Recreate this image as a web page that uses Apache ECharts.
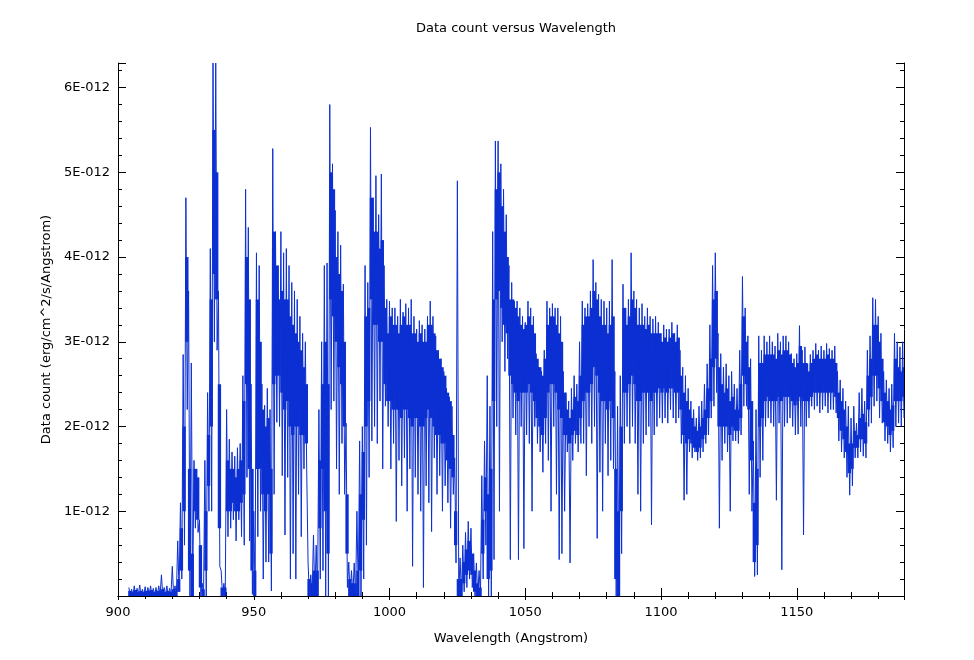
<!DOCTYPE html>
<html>
<head>
<meta charset="utf-8">
<script src="https://cdn.jsdelivr.net/npm/echarts@6/dist/echarts.min.js"></script>
<style>
html,body{margin:0;padding:0;background:#fff;}
#chart{width:974px;height:660px;}
</style>
</head>
<body>
<div id="chart"></div>
<script>
// Wavelength bins (Angstrom): one bin per Angstrom starting at 904
const wavelengthStart = 904;
const wavelengthStep = 1;
// Extreme upper / lower flux reached in each bin (units of 1E-012 erg/cm^2/s/Angstrom)
const fluxHigh = [
0.10,0.08,0.12,0.09,0.13,0.08,0.11,0.10,0.12,0.09,
0.10,0.12,0.25,0.10,0.12,0.09,0.35,0.12,0.65,1.10,
2.85,4.70,3.60,2.75,1.60,1.50,0.90,0.15,1.60,2.40,
4.10,6.29,6.29,3.60,0.30,0.15,2.20,1.85,1.70,1.65,
1.75,1.80,2.60,4.80,4.35,2.50,1.00,4.05,3.90,2.50,
2.25,2.45,2.20,5.28,4.30,3.90,4.30,4.05,4.10,3.90,
3.70,3.60,3.50,3.30,3.10,3.00,0.40,0.25,0.72,0.60,
2.20,3.00,3.90,3.93,5.80,5.10,4.55,4.30,4.14,3.68,
2.04,0.40,0.30,0.39,1.00,1.83,2.00,3.90,3.70,5.53,
4.70,4.96,4.50,4.98,3.90,3.50,3.48,3.40,3.40,3.30,
3.50,3.35,3.45,3.40,3.50,3.30,3.15,3.25,3.20,3.15,
3.30,3.48,3.30,3.07,2.90,2.80,2.65,2.45,2.35,2.24,
1.63,4.90,0.45,0.60,0.75,0.88,0.80,0.50,0.39,0.30,
1.42,1.83,2.60,2.24,4.30,5.37,5.37,5.10,4.80,4.50,
3.90,3.70,3.48,3.48,3.40,3.30,3.23,3.48,3.40,3.30,
2.86,2.70,2.65,2.90,3.48,3.40,3.45,3.40,3.40,3.30,
2.65,2.40,2.30,2.45,2.60,2.50,3.00,3.48,3.40,3.45,
3.60,3.97,3.70,3.56,3.50,3.48,3.40,3.48,3.97,2.65,
2.24,2.60,3.68,3.40,3.50,4.05,3.60,3.50,3.40,3.45,
3.30,3.40,3.30,3.27,3.30,3.23,3.10,3.20,3.15,3.15,
3.23,3.10,3.20,2.90,2.70,2.60,2.45,2.30,2.20,2.10,
2.24,2.30,2.50,2.74,3.20,3.90,4.05,3.10,2.86,2.70,
2.74,2.60,2.65,2.50,2.45,2.90,3.77,3.40,3.07,2.80,
1.83,2.20,3.07,2.90,3.07,3.00,3.07,3.00,2.95,3.10,
3.00,3.07,3.07,3.00,2.86,2.80,2.86,3.19,2.90,2.94,
2.74,2.85,2.90,2.98,2.90,2.95,2.90,2.98,2.92,2.90,
2.95,2.65,2.55,2.45,2.30,2.24,2.10,2.24,2.04,2.40,
2.45,2.30,2.90,3.07,3.52,3.50,3.30,3.10,2.65,2.55,
2.45,2.50,3.10,3.00,2.94,3.00
];
const fluxLow = [
0.00,0.01,0.00,0.02,0.00,0.01,0.00,0.02,0.00,0.01,
0.00,0.01,0.00,0.01,0.00,0.01,0.00,0.01,0.05,0.20,
0.60,2.20,0.00,0.00,0.80,0.75,0.00,0.00,0.00,1.00,
1.00,3.00,2.90,0.35,0.00,0.00,0.70,0.80,0.90,0.65,
0.90,0.70,0.60,1.40,0.65,0.02,0.00,0.70,1.00,0.20,
0.40,0.40,0.06,1.20,2.05,2.00,1.42,0.72,1.40,0.20,
0.50,0.20,1.20,0.70,1.50,1.50,0.00,0.00,0.00,0.00,
0.20,0.30,0.00,0.00,2.20,2.30,1.50,1.20,1.80,1.20,
0.10,0.00,0.00,0.00,0.00,0.00,0.20,0.60,1.40,1.83,
2.00,1.80,2.30,1.50,2.24,2.00,1.50,1.80,0.88,1.60,
1.30,1.63,1.00,1.50,0.35,1.40,1.20,1.00,0.10,1.30,
1.10,0.76,1.63,1.20,1.42,1.00,1.30,1.10,0.80,1.20,
0.39,0.00,0.00,0.05,0.10,0.20,0.10,0.00,0.00,0.00,
0.20,0.60,0.00,0.00,0.43,2.00,1.00,3.00,2.65,2.80,
0.43,2.10,1.90,0.43,2.00,0.56,1.90,1.80,1.00,2.00,
1.80,1.70,1.46,1.80,1.60,1.00,2.00,1.20,0.43,0.50,
1.00,1.70,0.39,1.60,1.80,1.70,1.80,1.80,1.42,2.00,
1.80,2.00,0.68,1.46,1.00,1.80,1.42,1.60,1.50,0.00,
0.00,0.50,1.80,2.00,1.80,2.00,1.80,1.20,1.00,1.80,
1.90,2.00,0.84,1.90,2.00,2.10,2.04,2.10,2.04,2.20,
2.10,2.04,2.10,1.80,1.13,1.20,1.70,1.63,1.70,1.60,
1.63,1.70,1.80,1.90,2.10,2.24,2.40,0.80,1.60,1.80,
1.70,1.00,1.83,1.83,1.80,1.90,2.24,2.24,1.20,1.00,
0.23,0.25,1.40,1.60,2.00,2.10,2.04,2.00,1.13,2.04,
0.31,2.00,2.04,2.10,2.00,1.90,1.91,2.00,0.72,2.00,
2.10,2.24,2.20,2.24,2.16,2.20,2.24,2.16,2.20,2.20,
2.16,1.83,1.70,1.63,1.40,1.19,1.30,1.63,1.63,1.70,
1.65,1.63,2.00,2.04,2.24,2.30,2.10,2.04,1.83,1.80,
1.70,1.75,2.00,2.04,2.00,2.10
];
// Dense core of the noisy spectrum in each bin (units of 1E-012)
const coreHigh = [
0.06,0.05,0.07,0.05,0.06,0.05,0.06,0.06,0.07,0.05,0.06,0.06,0.08,0.05,0.06,0.05,0.08,0.06,
0.2,0.8,2.0,4.0,1.5,0.5,1.5,1.4,0.6,0.08,
1.0,1.9,3.5,5.5,5.0,2.5,0.1,0.1,1.6,1.5,
1.5,1.4,1.5,1.6,2.3,4.0,3.5,1.5,0.3,3.5,
3.0,2.2,2.0,2.1,1.5,4.3,3.9,3.5,3.6,3.5,
3.5,3.3,3.2,3.1,3.0,2.9,2.7,2.5,0.2,0.15,
0.3,0.3,1.6,2.5,3.0,2.5,5.0,4.8,4.0,3.8,
3.6,3.0,1.2,0.2,0.15,0.15,0.3,1.2,1.7,3.3,
3.4,4.7,4.3,4.3,4.1,4.2,3.4,3.1,3.3,3.2,
3.2,3.1,3.2,3.3,3.2,3.2,3.1,3.1,3.0,3.1,
3.0,3.0,3.2,3.2,3.1,2.9,2.8,2.7,2.6,2.4,
2.3,1.9,1.0,0.2,0.2,0.4,0.55,0.65,0.5,0.3,
0.15,0.1,0.9,1.4,1.2,1.5,3.5,4.8,5.0,4.6,
4.3,4.0,3.5,3.5,3.4,3.3,3.2,3.15,3.2,3.3,
3.2,3.1,2.8,2.7,2.6,2.8,3.2,3.3,3.3,3.2,
3.1,3.0,2.4,2.2,2.1,2.2,2.35,2.3,2.6,3.2,
3.3,3.3,3.4,3.6,3.5,3.3,3.2,3.2,3.1,3.2,
3.3,1.5,1.0,2.0,3.4,3.2,3.3,3.5,3.4,3.2,
3.2,3.2,3.15,3.2,3.1,3.1,3.1,3.1,3.0,3.05,
3.0,3.05,3.1,3.0,3.05,2.6,2.4,2.3,2.2,2.1,
2.0,1.95,2.0,2.1,2.2,2.45,2.8,3.5,3.6,2.7,
2.5,2.4,2.45,2.3,2.35,2.2,2.2,2.5,3.3,3.0,
2.7,2.3,1.1,1.5,2.75,2.75,2.85,2.85,2.85,2.85,
2.8,2.9,2.85,2.9,2.9,2.85,2.75,2.7,2.75,2.95,
2.75,2.75,2.65,2.75,2.8,2.85,2.8,2.8,2.8,2.85,
2.8,2.8,2.75,2.4,2.3,2.2,2.0,1.8,1.8,1.95,
1.9,2.1,2.15,2.05,2.6,2.8,3.2,3.2,3.0,2.8,
2.4,2.3,2.2,2.25,2.8,2.7,2.65,2.7
];
const coreLow = [
0,0,0,0,0,0,0,0,0,0,0,0,0,0,0,0,0,0,
0.05,0.3,1.0,3.0,0.3,0.0,1.0,0.9,0.1,0.0,
0.3,1.3,2.0,3.8,3.5,0.8,0.0,0.0,1.0,1.0,
1.1,1.0,1.0,1.1,1.2,2.5,1.5,0.3,0.0,1.5,
1.5,1.2,1.0,1.2,0.5,2.5,2.6,2.6,2.4,2.2,
2.3,2.0,1.9,2.0,2.0,1.9,1.9,1.8,0.0,0.0,
0.0,0.0,0.8,1.5,1.0,0.5,3.5,3.3,3.0,2.7,
2.5,2.0,0.5,0.0,0.0,0.0,0.0,0.3,0.9,2.0,
2.3,3.5,3.2,3.2,3.0,3.0,2.5,2.3,2.3,2.2,
2.2,2.2,2.1,2.2,2.2,2.1,2.0,2.1,2.1,2.0,
2.0,2.1,2.2,2.1,2.0,1.9,1.9,1.8,1.8,1.6,
1.5,1.4,0.6,0.0,0.0,0.15,0.25,0.3,0.25,0.05,
0.0,0.0,0.5,1.0,0.2,0.3,2.3,3.5,3.6,3.4,
3.2,3.1,2.6,2.5,2.4,2.3,2.4,2.4,2.4,2.5,
2.4,2.3,2.1,2.0,1.9,2.1,2.4,2.5,2.5,2.4,
2.2,2.1,1.9,1.9,1.8,1.9,1.95,1.9,2.1,2.3,
2.4,2.4,2.5,2.7,2.6,2.4,2.3,2.3,2.2,2.3,
2.1,0.2,0.0,1.0,2.4,2.4,2.5,2.6,2.5,2.3,
2.3,2.4,2.4,2.4,2.3,2.4,2.4,2.45,2.4,2.45,
2.4,2.45,2.45,2.4,2.4,2.2,1.9,1.8,1.85,1.8,
1.75,1.7,1.75,1.85,1.9,2.1,2.3,2.7,2.8,2.0,
2.0,2.0,2.0,1.9,2.0,1.95,1.95,2.1,2.6,2.5,
2.2,1.6,0.4,0.6,2.0,2.1,2.3,2.35,2.3,2.3,
2.3,2.35,2.3,2.35,2.35,2.35,2.3,2.25,2.3,2.35,
2.3,2.3,2.3,2.35,2.4,2.4,2.4,2.4,2.4,2.4,
2.4,2.4,2.35,2.1,1.95,1.85,1.7,1.45,1.5,1.75,
1.75,1.85,1.85,1.8,2.2,2.35,2.6,2.6,2.45,2.3,
2.05,2.0,1.9,1.95,2.3,2.3,2.3,2.35
];
const xTickValues = [900, 950, 1000, 1050, 1100, 1150];
const yTickValues = [1, 2, 3, 4, 5, 6]; // in 1E-012 units

const UNIT = 1e-12;
const extremeData = [];
const coreData = [];
for (let i = 0; i < fluxHigh.length; i++) {
  const w = wavelengthStart + i * wavelengthStep;
  extremeData.push([w, fluxHigh[i] * UNIT]);
  extremeData.push([w + wavelengthStep / 2, fluxLow[i] * UNIT]);
  coreData.push([w, coreLow[i] * UNIT, coreHigh[i] * UNIT]);
}

const BLUE = '#0c30d2';
const FONT = 'DejaVu Sans';
const chart = echarts.init(document.getElementById('chart'), null, {renderer: 'canvas'});
const axisLineStyle = {show: true, lineStyle: {color: '#000', width: 1}};
const xCommon = {
  type: 'value', min: 900, max: 1189.5, interval: 50,
  axisLine: axisLineStyle,
  axisTick: {show: true, inside: true, length: 8, lineStyle: {color: '#000'}},
  minorTick: {show: true, splitNumber: 5, length: 4, lineStyle: {color: '#000'}},
  splitLine: {show: false}, minorSplitLine: {show: false}
};
const yCommon = {
  type: 'value', min: 0, max: 6.29e-12, interval: 1e-12,
  axisLine: axisLineStyle,
  axisTick: {show: true, inside: true, length: 8, lineStyle: {color: '#000'}},
  minorTick: {show: true, splitNumber: 5, length: 4, lineStyle: {color: '#000'}},
  splitLine: {show: false}, minorSplitLine: {show: false}
};
chart.setOption({
  animation: false,
  backgroundColor: '#fff',
  title: {
    text: 'Data count versus Wavelength', top: 17,
    left: 511, textAlign: 'center',
    textStyle: {fontFamily: FONT, fontSize: 13, fontWeight: 'normal', color: '#000'}
  },
  grid: {left: 118, right: 70, top: 63, bottom: 64, containLabel: false},
  xAxis: [
    Object.assign({}, xCommon, {
      position: 'bottom',
      name: 'Wavelength (Angstrom)', nameLocation: 'middle', nameGap: 36,
      nameTextStyle: {fontFamily: FONT, fontSize: 13, color: '#000'},
      axisLabel: {
        show: true, margin: 10, fontFamily: FONT, fontSize: 13, color: '#000',
        formatter: v => xTickValues.indexOf(Math.round(v)) >= 0 && Math.abs(v - Math.round(v)) < 1e-6 ? String(Math.round(v)) : ''
      }
    }),
    Object.assign({}, xCommon, {
      position: 'top', axisLabel: {show: false},
      axisTick: {show: true, inside: true, length: 4, lineStyle: {color: '#000'}},
      minorTick: {show: true, splitNumber: 5, length: 3, lineStyle: {color: '#000'}}
    })
  ],
  yAxis: [
    Object.assign({}, yCommon, {
      position: 'left',
      name: 'Data count (erg/cm^2/s/Angstrom)', nameLocation: 'middle', nameGap: 64,
      nameTextStyle: {fontFamily: FONT, fontSize: 13, color: '#000'},
      axisLabel: {
        show: true, margin: 8, fontFamily: FONT, fontSize: 13, color: '#000',
        formatter: v => {
          const n = Math.round(v / UNIT);
          return (yTickValues.indexOf(n) >= 0 && Math.abs(v / UNIT - n) < 1e-6) ? n + 'E-012' : '';
        }
      }
    }),
    Object.assign({}, yCommon, {position: 'right', axisLabel: {show: false}})
  ],
  series: [
    {
      name: 'core', type: 'custom',
      xAxisIndex: 0, yAxisIndex: 0,
      data: coreData,
      encode: {x: 0, y: [1, 2]},
      clip: true, silent: true, z: 2,
      renderItem: function (params, api) {
        const w = api.value(0);
        const pTop = api.coord([w - wavelengthStep / 4, api.value(2)]);
        const pBot = api.coord([w + wavelengthStep * 3 / 4, api.value(1)]);
        return {
          type: 'rect',
          shape: {
            x: pTop[0], y: pTop[1],
            width: pBot[0] - pTop[0] + 0.6,
            height: Math.max(pBot[1] - pTop[1], 1)
          },
          style: {fill: BLUE}
        };
      }
    },
    {
      name: 'Data count', type: 'line',
      xAxisIndex: 0, yAxisIndex: 0,
      data: extremeData, showSymbol: false, symbol: 'none',
      sampling: null, clip: true,
      lineStyle: {color: BLUE, width: 1}, itemStyle: {color: BLUE}, z: 3
    }
  ]
});
</script>
</body>
</html>
